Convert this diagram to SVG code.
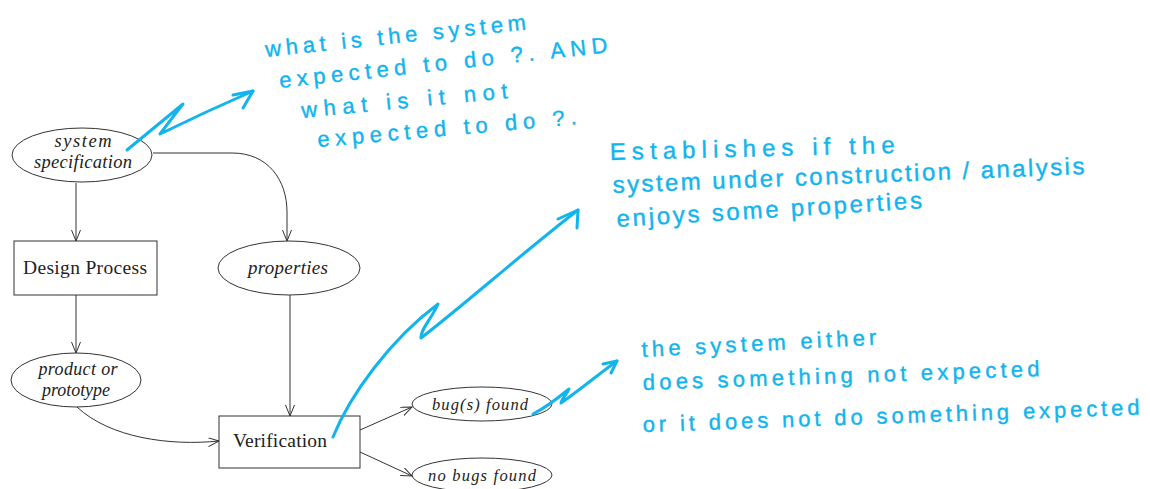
<svg xmlns="http://www.w3.org/2000/svg" width="1150" height="489" viewBox="0 0 1150 489">
<style>
.shape{fill:#fff;stroke:#333;stroke-width:1}
.lbl{font-family:"Liberation Serif","DejaVu Serif",serif;fill:#222;text-anchor:middle}
.it{font-style:italic}
.edge{fill:none;stroke:#333;stroke-width:1}
.hand{fill:none;stroke:#12b4ee;stroke-width:3;stroke-linecap:round;stroke-linejoin:round}
.note{font-family:"Liberation Sans","DejaVu Sans",sans-serif;fill:#12b4ee;stroke:#12b4ee;stroke-width:0.4}
</style>
<defs>
<marker id="arr" markerUnits="userSpaceOnUse" markerWidth="12" markerHeight="10" refX="11" refY="4.5" orient="auto">
<path d="M0,0 L11,4.5 L0,9" fill="none" stroke="#333" stroke-width="1"/>
</marker>
</defs>
<rect width="1150" height="489" fill="#fff"/>

<g id="connectors">
<path class="edge" d="M76,183 L76,241" marker-end="url(#arr)"/>
<path class="edge" d="M76,295 L76,353" marker-end="url(#arr)"/>
<path class="edge" d="M153,153 L232,153 C268,153 287,180 287,212 L287,241" marker-end="url(#arr)"/>
<path class="edge" d="M290,295 L290,416" marker-end="url(#arr)"/>
<path class="edge" d="M77,407 C110,438 170,446 219,441" marker-end="url(#arr)"/>
<path class="edge" d="M360,430 L412,407" marker-end="url(#arr)"/>
<path class="edge" d="M360,452 L412,476" marker-end="url(#arr)"/>
</g>

<g id="node-spec">
<ellipse class="shape" cx="82" cy="155" rx="70" ry="27"/>
<text class="lbl it" x="83" y="147" font-size="18.5" textLength="57">system</text>
<text class="lbl it" x="83" y="168" font-size="18.5" textLength="98">specification</text>
</g>
<g id="node-design">
<rect class="shape" x="14" y="241" width="143" height="54"/>
<text class="lbl" x="85" y="274" font-size="19.5" textLength="124">Design Process</text>
</g>
<g id="node-properties">
<ellipse class="shape" cx="289" cy="268" rx="71" ry="27"/>
<text class="lbl it" x="288" y="274" font-size="19" textLength="80">properties</text>
</g>
<g id="node-product">
<ellipse class="shape" cx="76" cy="380" rx="65" ry="27"/>
<text class="lbl it" x="78" y="375" font-size="18" textLength="79">product or</text>
<text class="lbl it" x="76" y="396" font-size="18" textLength="68">prototype</text>
</g>
<g id="node-verification">
<rect class="shape" x="219" y="416" width="141" height="52"/>
<text class="lbl" x="280" y="447" font-size="19.5" textLength="94">Verification</text>
</g>
<g id="node-bugs">
<ellipse class="shape" cx="482" cy="404" rx="70" ry="17"/>
<text class="lbl it" x="480" y="410" font-size="16.5" textLength="96">bug(s) found</text>
</g>
<g id="node-nobugs">
<ellipse class="shape" cx="482" cy="475" rx="70" ry="17"/>
<text class="lbl it" x="482" y="481" font-size="16.5" textLength="108">no bugs found</text>
</g>

<g id="annotations">
<path class="hand" d="M127,150 L183,104 Q172,118 160,134 Q205,112 253,91"/>
<path class="hand" d="M233,95 L253,91 L243,108"/>
<path class="hand" d="M333,437 C350,395 390,340 438,304 C432,318 420,330 421,338 C470,300 520,255 578,210"/>
<path class="hand" d="M558,219 L578,210 L577,228"/>
<path class="hand" d="M533,414 C545,408 558,398 569,389 C566,395 561,400 561,403 C580,390 600,373 617,361"/>
<path class="hand" d="M603,364 L617,361 L611,373"/>

<text class="note" font-size="22" transform="translate(266,57) rotate(-6)" textLength="262">what is the system</text>
<text class="note" font-size="22" transform="translate(280,88) rotate(-6.2)" textLength="330">expected to do ?. AND</text>
<text class="note" font-size="22" transform="translate(302,118) rotate(-5.5)" textLength="207">what is it not</text>
<text class="note" font-size="22" transform="translate(318,147) rotate(-5)" textLength="260">expected to do ?.</text>

<text class="note" font-size="24" transform="translate(610,160) rotate(-1.4)" textLength="285">Establishes if the</text>
<text class="note" font-size="24" transform="translate(613,193) rotate(-2.3)" textLength="472">system under construction / analysis</text>
<text class="note" font-size="24" transform="translate(617,227) rotate(-3.5)" textLength="306">enjoys some properties</text>

<text class="note" font-size="22" transform="translate(642,357) rotate(-3)" textLength="235">the system either</text>
<text class="note" font-size="22" transform="translate(643,390) rotate(-2)" textLength="397">does something not expected</text>
<text class="note" font-size="22" transform="translate(643,432) rotate(-2)" textLength="497">or it does not do something expected</text>
</g>
</svg>
